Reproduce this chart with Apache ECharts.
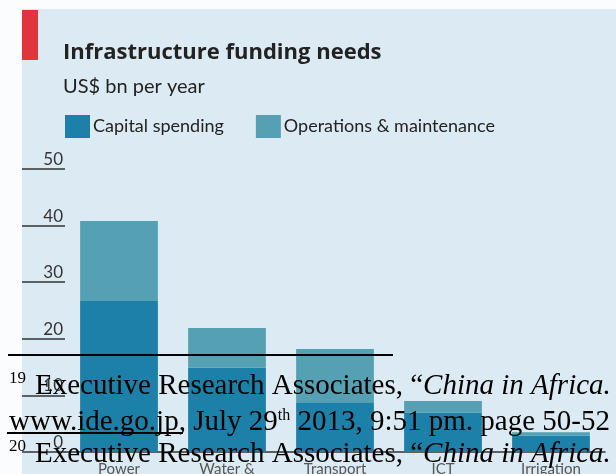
<!DOCTYPE html>
<html>
<head>
<meta charset="utf-8">
<script src="https://cdn.jsdelivr.net/npm/echarts@6/dist/echarts.min.js"></script>
<style>
  html, body { margin: 0; padding: 0; background: #ffffff; }
  #chart { width: 616px; height: 474px; }
</style>
</head>
<body>
<div id="chart"></div>
<script>
// Infrastructure funding needs, US$ bn per year
const categories = ['Power', 'Water &\nsanitation', 'Transport', 'ICT', 'Irrigation'];
const capitalSpending = [26.7, 14.9, 8.8, 7.0, 2.9];
const operationsMaintenance = [14.1, 7.0, 9.4, 2.0, 0.6];
const yTicks = { min: 0, max: 50, interval: 10 };

const SANS = 'Lato, "Open Sans", sans-serif';
const TITLE_FONT = '"Open Sans", Lato, sans-serif';
const SERIF = '"Liberation Serif", "Times New Roman", serif';
const CAPITAL = '#1c80a8';
const OPS = '#55a0b2';

const chart = echarts.init(document.getElementById('chart'), null, { renderer: 'canvas' });

// footnote line with a regular lead-in and an italic title
function footnoteLine(x, y, lead, italic) {
  return {
    type: 'text', z: 100, x: x, y: y,
    style: {
      text: '{r|' + lead + '}{i|' + italic + '}',
      verticalAlign: 'bottom',
      rich: {
        r: { fontFamily: SERIF, fontSize: 29, color: '#000' },
        i: { fontFamily: SERIF, fontSize: 29, fontStyle: 'italic', color: '#000' }
      }
    }
  };
}

chart.setOption({
  backgroundColor: '#dcebf3',
  animation: false,
  title: {
    text: 'Infrastructure funding needs',
    subtext: 'US$ bn per year',
    left: 63,
    top: 42,
    padding: 0,
    itemGap: 13,
    textStyle: { fontFamily: TITLE_FONT, fontSize: 22, fontWeight: 'bold', color: '#222' },
    subtextStyle: { fontFamily: SANS, fontSize: 20, color: '#222' }
  },
  legend: {
    left: 65,
    top: 115,
    padding: 0,
    itemWidth: 25,
    itemHeight: 23,
    itemGap: 32,
    icon: 'rect',
    textStyle: { fontFamily: SANS, fontSize: 18, color: '#222', padding: [0, 0, 0, -2] },
    data: ['Capital spending', 'Operations & maintenance']
  },
  grid: { left: 65, right: 11, top: 169, bottom: 22, outerBoundsMode: 'none', containLabel: false },
  xAxis: {
    type: 'category',
    data: categories,
    axisLine: { show: true, lineStyle: { color: '#333', width: 1.5 } },
    axisTick: { show: false },
    axisLabel: { fontFamily: SANS, fontSize: 15, color: '#555', margin: 9, lineHeight: 16 }
  },
  yAxis: {
    type: 'value',
    min: yTicks.min,
    max: yTicks.max,
    interval: yTicks.interval,
    axisLine: { show: false },
    splitLine: { show: false },
    axisTick: { show: true, length: 43, lineStyle: { color: '#333', width: 1.5 } },
    axisLabel: {
      fontFamily: SANS, fontSize: 17, color: '#333',
      margin: 2, align: 'right', verticalAlign: 'bottom', padding: [0, 0, 1, 0]
    }
  },
  series: [
    {
      name: 'Capital spending',
      type: 'bar',
      stack: 'total',
      barWidth: '72%',
      itemStyle: { color: CAPITAL },
      data: capitalSpending
    },
    {
      name: 'Operations & maintenance',
      type: 'bar',
      stack: 'total',
      barWidth: '72%',
      itemStyle: { color: OPS },
      data: operationsMaintenance
    }
  ],
  graphic: [
    // white page margins round the panel
    { type: 'rect', z: 0, shape: { x: 0, y: 0, width: 22, height: 474 }, style: { fill: '#fbfcfd' } },
    { type: 'rect', z: 0, shape: { x: 0, y: 0, width: 616, height: 9 }, style: { fill: '#fbfcfd' } },
    // red tag
    { type: 'rect', z: 1, shape: { x: 22, y: 10, width: 16, height: 50 }, style: { fill: '#e0353d' } },
    // footnotes printed over the chart
    { type: 'line', z: 100, shape: { x1: 8, y1: 355, x2: 393, y2: 355 }, style: { stroke: '#000', lineWidth: 2 } },
    { type: 'text', z: 100, x: 9, y: 370, style: { text: '19', font: '17px ' + SERIF, fill: '#000' } },
    footnoteLine(35, 401, 'Executive Research Associates, “', 'China in Africa.'),
    {
      type: 'text', z: 100, x: 9, y: 437,
      style: {
        text: '{r|www.ide.go.jp, July 29}{s|th}{r| 2013, 9:51 pm. page 50-52}',
        verticalAlign: 'bottom',
        rich: {
          r: { fontFamily: SERIF, fontSize: 29, color: '#000' },
          s: { fontFamily: SERIF, fontSize: 16, color: '#000', verticalAlign: 'top' }
        }
      }
    },
    { type: 'line', z: 100, shape: { x1: 7, y1: 433, x2: 183, y2: 433 }, style: { stroke: '#000', lineWidth: 2 } },
    { type: 'text', z: 100, x: 9, y: 438, style: { text: '20', font: '17px ' + SERIF, fill: '#000' } },
    footnoteLine(35, 469, 'Executive Research Associates, “', 'China in Africa.')
  ]
});
</script>
</body>
</html>
